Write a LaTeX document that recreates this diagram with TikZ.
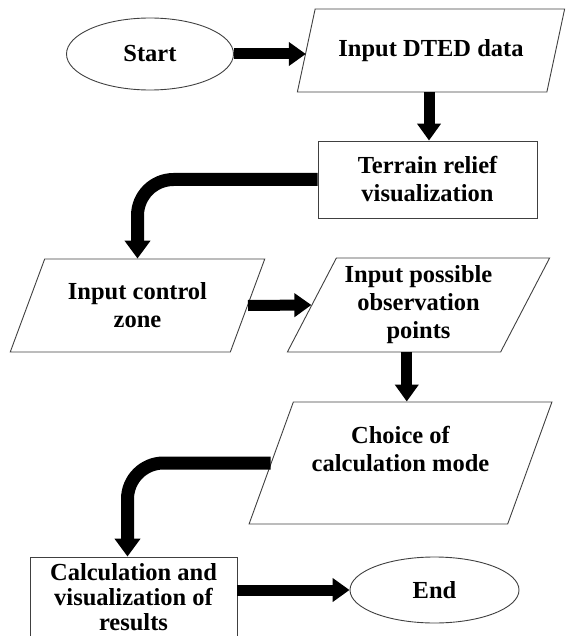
\documentclass[tikz,border=0pt]{standalone}
\usepackage{fontspec}
\setmainfont{Liberation Serif}
\usetikzlibrary{arrows.meta, calc, positioning, shapes.geometric}

\begin{document}
\begin{tikzpicture}[x=1pt, y=-1pt,
  every node/.style={font=\fontsize{24.5}{28}\selectfont\bfseries, align=center, inner sep=0pt},
  term/.style={ellipse, draw=black!75, line width=0.9pt},
  io/.style={trapezium, trapezium stretches=true, draw=black!75, line width=0.9pt},
  proc/.style={rectangle, draw=black!75, line width=0.9pt},
  bigarrow/.style={line width=11pt, -{Triangle[width=23pt, length=17pt]}},
  bendarrow/.style={line width=13pt, rounded corners=36pt, -{Triangle[width=25pt, length=18pt]}}]
\useasboundingbox (0,0) rectangle (565,636);
\node[term, minimum width=167pt, minimum height=72pt] (start) at (150,54) {Start};
\node[io, trapezium left angle=57.4, trapezium right angle=122.6, minimum width=268pt, minimum height=83pt] (dted) at (431,50.5) {Input DTED data};
\node[proc, minimum width=219pt, minimum height=77pt] (terrain) at (427.5,179.5) {Terrain relief\\visualization};
\node[io, trapezium left angle=60.3, trapezium right angle=119.7, minimum width=255pt, minimum height=93pt] (control) at (137.5,305.5) {Input control\\zone};
\node[io, trapezium left angle=60.6, trapezium right angle=119.4, minimum width=263pt, minimum height=94pt] (obs) at (418.5,305) {Input possible\\observation\\points};
\node[io, trapezium left angle=63.4, trapezium right angle=116.6, minimum width=303pt, minimum height=122pt] (choice) at (400.5,463) {Choice of\\calculation mode\\\mbox{}};
\node[proc, minimum width=207pt, minimum height=80pt, font=\fontsize{24.5}{25}\selectfont\bfseries] (calc) at (133.5,597) {Calculation and\\visualization of\\results};
\node[term, minimum width=169pt, minimum height=66pt] (end) at (434.5,590) {End};
\draw[bigarrow] (start.east) -- (start.east -| dted.left side);
\draw[bigarrow] ([xshift=7pt]dted.bottom side) -- ([xshift=7pt]dted.bottom side |- terrain.north);
\draw[bendarrow] (terrain.west) -| (control.north);
\draw[bigarrow] (control.right side) -- (obs.left side);
\draw[bigarrow] ([xshift=13pt]obs.bottom side) -- ([xshift=13pt]obs.bottom side |- choice.north);
\draw[bendarrow] (choice.left side) -| ([xshift=-6pt]calc.north);
\draw[bigarrow] (end.west -| calc.east) -- (end.west);
\end{tikzpicture}
\end{document}
